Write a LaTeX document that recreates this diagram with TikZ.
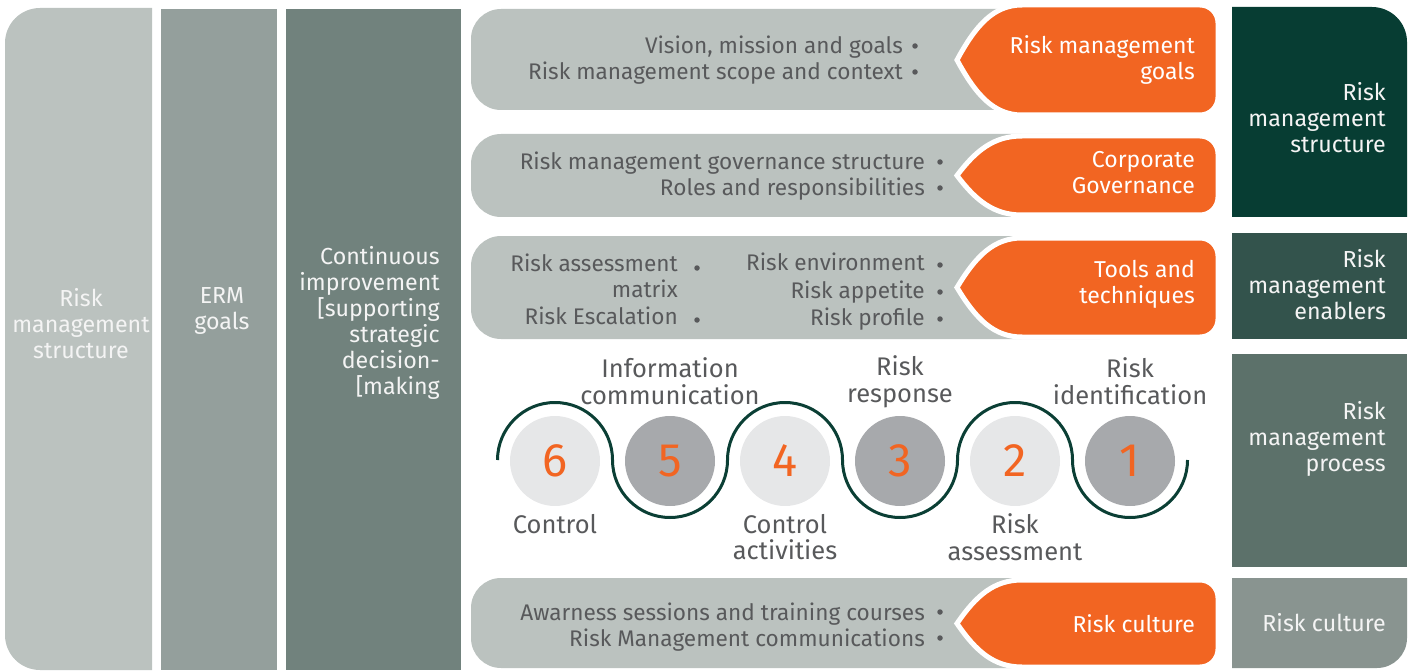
\documentclass[tikz,border=0pt]{standalone}
\usepackage{fontspec}
\setmainfont{Fira Sans}
\definecolor{barfill}{HTML}{BBC2BF}
\definecolor{coltwo}{HTML}{949F9C}
\definecolor{colthree}{HTML}{71827D}
\definecolor{tabfill}{HTML}{F26522}
\definecolor{boxone}{HTML}{073D33}
\definecolor{boxtwo}{HTML}{33534C}
\definecolor{boxthree}{HTML}{5C716A}
\definecolor{boxfour}{HTML}{899490}
\definecolor{circlight}{HTML}{E6E7E8}
\definecolor{circdark}{HTML}{A7A9AC}
\definecolor{wavecol}{HTML}{0B3F35}
\definecolor{txtgray}{HTML}{58595B}
\definecolor{txtwhite}{HTML}{F4F4F4}

% orange heading tab with a pointed left end: #1 top, #2 bottom
\newcommand\rmtab[2]{%
  \path[draw=white,line width=5pt,fill=tabfill]
    (957,{(#1+#2)/2}) .. controls (976,{(#1+#2)/2-0.32*(#2-#1)}) and (994,#1) .. (1022,#1)
    [rounded corners=18pt] -- (1218,#1) -- (1218,#2) [sharp corners] -- (1022,#2)
    .. controls (994,#2) and (976,{(#1+#2)/2+0.32*(#2-#1)}) .. cycle;}
% light grey band with rounded left end: #1 top, #2 bottom
\newcommand\rmband[2]{%
  \fill[barfill] (1100,#1) [rounded corners=30pt] -- (471,#1) -- (471,#2) [sharp corners] -- (1100,#2) -- cycle;}

\tikzset{
  bartext/.style={text=txtgray,font=\fontsize{22.6}{26.5}\selectfont,align=right,anchor=east,inner sep=0pt},
  tabtext/.style={text=white,font=\fontsize{23}{26}\selectfont,align=right,anchor=east,inner sep=0pt},
  coltext/.style={text=txtwhite,font=\fontsize{23.2}{26}\selectfont,inner sep=0pt},
  steplabel/.style={text=txtgray,font=\fontsize{25.5}{26.5}\selectfont,align=center,inner sep=0pt},
  stepcirc/.style={circle,minimum size=90pt,inner sep=0pt,text=tabfill,font=\fontsize{47}{47}\selectfont},
  bulletdot/.style={circle,fill=txtgray,minimum size=5.5pt,inner sep=0pt},
}

\begin{document}
\begin{tikzpicture}[x=1pt,y=-1pt]
\useasboundingbox (0,0) rectangle (1413,671);

% left columns
\fill[barfill] (152,8) [rounded corners=35pt] -- (5,8) -- (5,670) [sharp corners] -- (152,670) -- cycle;
\fill[coltwo] (161,9) rectangle (277,670);
\fill[colthree] (286,9) rectangle (461,670);
\node[coltext,align=center] (colA) at (81,324) {Risk\\management\\structure};
\node[coltext,align=center] (colB) at (222,311) {ERM\\goals};
\node[coltext,align=right,anchor=east] (colC) at (440,323) {Continuous\\improvement\\{[}supporting\\strategic\\decision-\\{[}making};

% right column
\fill[boxone] (1232,7) [rounded corners=35pt] -- (1407,7) [sharp corners] -- (1407,217) -- (1232,217) -- cycle;
\fill[boxtwo] (1232,233) rectangle (1407,339);
\fill[boxthree] (1232,354) rectangle (1407,567);
\fill[boxfour] (1232,578) -- (1407,578) [rounded corners=30pt] -- (1407,668) [sharp corners] -- (1232,668) -- cycle;
\node[coltext,align=right,anchor=east] (rA) at (1386,118) {Risk\\management\\structure};
\node[coltext,align=right,anchor=east] (rB) at (1386,285) {Risk\\management\\enablers};
\node[coltext,align=right,anchor=east] (rC) at (1386,439) {Risk\\management\\process};
\node[coltext,align=right,anchor=east] (rD) at (1386,623) {Risk culture};

% bands with headings
\rmband{9}{110}   \rmtab{5}{115}
\rmband{134}{217} \rmtab{136}{215}
\rmband{236}{339} \rmtab{238}{337}
\rmband{578}{668} \rmtab{580}{667}

\node[tabtext] (tA) at (1195,60) {Risk management\\goals};
\node[tabtext] (tB) at (1195,173) {Corporate\\Governance};
\node[tabtext] (tC) at (1195,284) {Tools and\\techniques};
\node[tabtext] (tD) at (1195,624) {Risk culture};

\node[bartext] (bA) at (903,60) {Vision, mission and goals\\Risk management scope and context};
\node[bulletdot] (dA1) at (915,46) {};
\node[bulletdot] (dA2) at (915,72) {};

\node[bartext] (bB) at (925,176) {Risk management governance structure\\Roles and responsibilities};
\node[bulletdot] (dB1) at (940,162) {};
\node[bulletdot] (dB2) at (940,188) {};

\node[bartext] (bC1) at (678,289) {Risk assessment\\matrix\\Risk Escalation};
\node[bulletdot] (dC1) at (697,268) {};
\node[bulletdot] (dC2) at (697,320) {};
\node[bartext,font=\fontsize{22.6}{27.5}\selectfont] (bC2) at (925,292) {Risk environment\\Risk appetite\\Risk profile};
\node[bulletdot] (dC3) at (940,265) {};
\node[bulletdot] (dC4) at (940,292) {};
\node[bulletdot] (dC5) at (940,319) {};

\node[bartext] (bD) at (925,627) {Awarness sessions and training courses\\Risk Management communications};
\node[bulletdot] (dD1) at (940,612) {};
\node[bulletdot] (dD2) at (940,638) {};

% process steps
\node[stepcirc,fill=circlight] (s6) at (555,461) {6};
\node[stepcirc,fill=circdark]  (s5) at (670,461) {5};
\node[stepcirc,fill=circlight] (s4) at (785,461) {4};
\node[stepcirc,fill=circdark]  (s3) at (900,461) {3};
\node[stepcirc,fill=circlight] (s2) at (1015,461) {2};
\node[stepcirc,fill=circdark]  (s1) at (1130,461) {1};

\draw[wavecol,line width=3pt]
  (497.5,460) arc (180:360:57.5) arc (180:0:57.5) arc (180:360:57.5)
  arc (180:0:57.5) arc (180:360:57.5) arc (180:0:57.5);

\node[steplabel] (l5) at (670,381) {Information\\communication};
\node[steplabel] (l3) at (900,382) {Risk\\response};
\node[steplabel] (l1) at (1130,381) {Risk\\identification};
\node[steplabel] (l6) at (555,524) {Control};
\node[steplabel] (l4) at (785,537) {Control\\activities};
\node[steplabel] (l2) at (1015,537) {Risk\\assessment};
\end{tikzpicture}
\end{document}
